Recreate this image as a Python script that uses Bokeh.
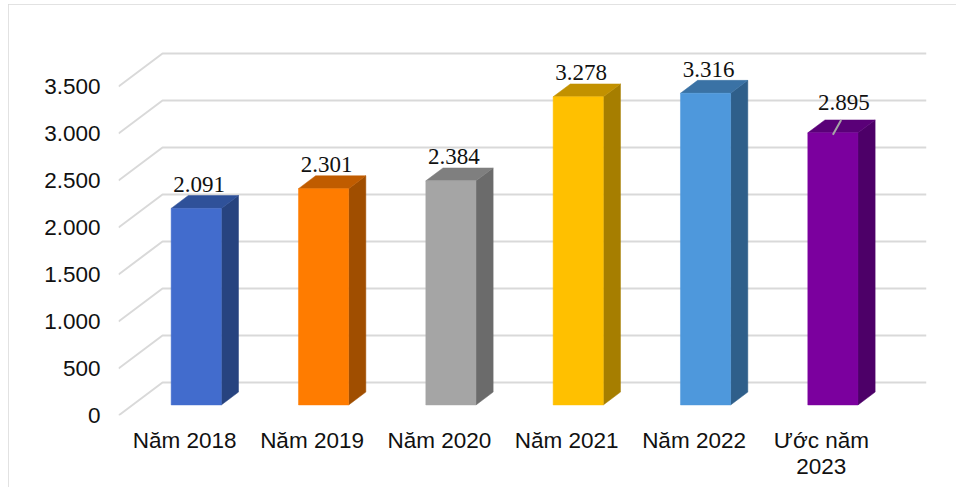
from bokeh.plotting import figure
from bokeh.embed import file_html
from bokeh.resources import INLINE
from bokeh.models import Range1d, FixedTicker
from bokeh.core.properties import value

categories = ["Năm 2018", "Năm 2019", "Năm 2020", "Năm 2021", "Năm 2022", "Ước năm\n2023"]
values = [2091, 2301, 2384, 3278, 3316, 2895]
labels = ["2.091", "2.301", "2.384", "3.278", "3.316", "2.895"]
y_ticks = [0, 500, 1000, 1500, 2000, 2500, 3000, 3500]
y_tick_labels = ["0", "500", "1.000", "1.500", "2.000", "2.500", "3.000", "3.500"]
front_colors = ["#426CCD", "#FF7C00", "#A5A5A5", "#FFC000", "#4E98DC", "#7B009E"]
top_colors = ["#2F5199", "#C05C00", "#7F7F7F", "#C29100", "#3A72A5", "#5A0078"]
side_colors = ["#27437F", "#A04E00", "#6B6B6B", "#A67E00", "#2F5F8A", "#4D0068"]

W, H = 948, 483
PX_Y = 0.094          # pixels per value unit
PX_X = 127.33         # pixels per category
L, R, T, B = 110, 918, 36, 411
DX, DY = 44 / PX_X, 33 / PX_Y   # full floor depth in data units


def proj(x, v, d):
    """Project a point at floor depth d (0 front .. 1 back)."""
    return x + DX * d, v + DY * d


p = figure(width=W, height=H, output_backend="svg", toolbar_location=None,
           x_range=Range1d(0, (R - L) / PX_X), y_range=Range1d(0, (B - T) / PX_Y),
           min_border_left=L, min_border_right=W - R, min_border_top=T,
           min_border_bottom=H - B, outline_line_color=None, margin=(4, 0, 0, 8),
           styles={"outline": "2px solid #D9D9D9", "outline-offset": "-2px"})
p.background_fill_color = "white"
p.xgrid.visible = False
p.ygrid.visible = False

# Wall and side gridlines
for t in y_ticks:
    x0, y0 = proj(0, t, 0)
    x1, y1 = proj(0, t, 1)
    x2, _ = proj(len(categories), t, 1)
    p.line([x0, x1, x2], [y0, y1, y1], line_color="#D9D9D9", line_width=2)

# Bars
D0, D1, HALF = 0.32, 0.71, 0.197
for i, v in enumerate(values):
    c = i + 0.5
    lf, rt = c - HALF, c + HALF
    fa, fb = proj(lf, 0, D0), proj(rt, 0, D0)
    fc, fd = proj(rt, v, D0), proj(lf, v, D0)
    ba, bb = proj(rt, 0, D1), proj(rt, v, D1)
    bc = proj(lf, v, D1)
    p.patch([fb[0], ba[0], bb[0], fc[0]], [fb[1], ba[1], bb[1], fc[1]], fill_color=side_colors[i], line_color=side_colors[i], line_width=0.5)
    p.patch([fd[0], fc[0], bb[0], bc[0]], [fd[1], fc[1], bb[1], bc[1]], fill_color=top_colors[i], line_color=top_colors[i], line_width=0.5)
    p.patch([fa[0], fb[0], fc[0], fd[0]], [fa[1], fb[1], fc[1], fd[1]], fill_color=front_colors[i], line_color=front_colors[i], line_width=0.5)
    _, ly = proj(c, v, D1)
    last = i == len(values) - 1
    p.text([proj(c, v, D0)[0]], [ly], text=[labels[i]], text_font=value("Liberation Serif"),
           text_font_size="23px", text_align="center", text_baseline="alphabetic",
           text_color="#111111", x_offset=(11 if last else 3), y_offset=(-17 if last else -11))

# Leader line of the last label
c = len(values) - 0.5
lead0 = proj(c, values[-1] - 20, D0)
lead1 = proj(c - 0.07, values[-1], D1)
p.line([lead0[0], lead1[0]], [lead0[1], lead1[1]], line_color="#A6A6A6", line_width=2)

# Axes
p.yaxis.ticker = FixedTicker(ticks=y_ticks)
p.yaxis.major_label_overrides = dict(zip(y_ticks, y_tick_labels))
p.yaxis.major_label_text_font = "Liberation Sans"
p.yaxis.major_label_text_font_size = "22.5px"
p.yaxis.major_label_text_color = "#111111"
p.yaxis.major_label_standoff = 12
p.yaxis.axis_line_color = None
p.yaxis.major_tick_line_color = None
p.yaxis.minor_tick_line_color = None

xt = [i + 0.52 for i in range(len(categories))]
p.xaxis.ticker = FixedTicker(ticks=xt)
p.xaxis.major_label_overrides = dict(zip(xt, categories))
p.xaxis.major_label_text_font = "Liberation Sans"
p.xaxis.major_label_text_font_size = "22.5px"
p.xaxis.major_label_text_color = "#111111"
p.xaxis.major_label_standoff = 6
p.xaxis.major_label_text_line_height = 1.05
p.xaxis.axis_line_color = None
p.xaxis.major_tick_line_color = None
p.xaxis.minor_tick_line_color = None

open("out.html", "w").write(file_html(p, INLINE))
